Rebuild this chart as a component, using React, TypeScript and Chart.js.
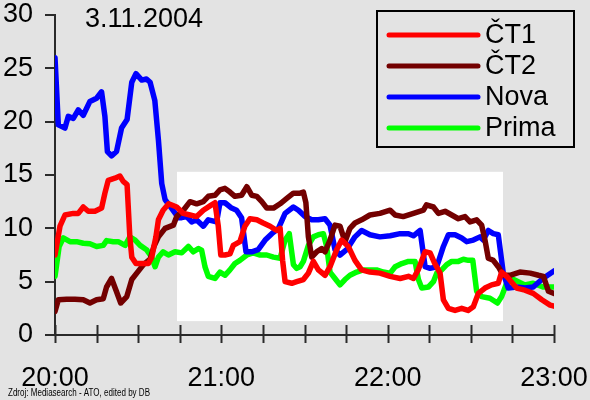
import React, { useEffect, useRef } from "react";
import { Chart, registerables } from "chart.js";

Chart.register(...registerables);

const chartDate = "3.11.2004";
const sourceNote = "Zdroj: Mediasearch - ATO, edited by DB";
const yTicks = [0, 5, 10, 15, 20, 25, 30];
const hourLabels = ["20:00", "21:00", "22:00", "23:00"];
const seriesNames = ["ČT1", "ČT2", "Nova", "Prima"];
const seriesColors = ["#ff0000", "#730000", "#0000ff", "#00ff00"];
// highlighted (white) region in data units: minutes from 20:00 and rating
const highlightMinutes = [44, 161.6];
const highlightRating = [1.3, 15.3];

// [minutes after 20:00, rating]
const ct1: [number, number][] = [
  [0, 7.5], [1.8, 10.2], [3.6, 11.25], [6.6, 11.4], [8.4, 11.4], [10.2, 12.0], [12, 11.6], [14.4, 11.6],
  [16.8, 11.9], [18, 13.3], [19.2, 14.5], [21.6, 14.7], [23.4, 14.9], [24.6, 14.4], [26, 14.1], [27, 9.2],
  [27.7, 7.3], [29.2, 6.7], [31.3, 6.7], [33.7, 6.7], [34.9, 7.3], [36.4, 9.2], [37.3, 10.8], [39, 11.7],
  [41, 12.3], [43.9, 12.0], [46.3, 11.4], [48.7, 11.25], [51.1, 11.1], [53.5, 11.7], [55.9, 12.1], [57.7, 12.4],
  [58.9, 10.2], [59.8, 7.5], [61.3, 7.5], [63.1, 7.6], [64.3, 8.4], [66.7, 8.75], [68.5, 10.2], [70.3, 10.9],
  [72.8, 10.8], [75.1, 10.5], [77.6, 10.2], [80, 9.8], [81.2, 10.0], [82.1, 7.0], [83, 5.0], [85.4, 4.85],
  [87.2, 5.0], [89.6, 5.2], [91.4, 5.8], [93.2, 6.9], [95, 6.1], [97.4, 5.6], [99.2, 6.4], [101.6, 8.0],
  [103.4, 8.9], [105.8, 8.3], [108.2, 7.0], [110.6, 6.1], [113.6, 5.9], [117.2, 5.8], [120.9, 5.5], [124.5, 5.3],
  [127.5, 5.5], [129.3, 5.3], [131, 6.1], [133.5, 7.8], [135.3, 7.7], [137, 6.7], [138.9, 5.8], [140.1, 3.3],
  [141.9, 2.5], [144.3, 2.3], [146.7, 2.5], [149, 2.3], [150.9, 2.65], [152.7, 3.9], [155.1, 4.4], [157.5, 4.7],
  [159.9, 4.85], [161.1, 5.9], [162.9, 5.5], [166.5, 4.4], [169.5, 4.2], [172.5, 3.9], [175.6, 3.3], [178.6, 2.8],
  [180, 2.7],
];

const ct2: [number, number][] = [
  [0, 2.2], [1.2, 3.3], [4.2, 3.35], [7.2, 3.35], [10.2, 3.3], [12.6, 3.0], [15, 3.3], [17.4, 3.4],
  [18.6, 4.5], [20.4, 5.3], [22, 4.2], [23.7, 3.0], [25.9, 3.6], [27.7, 5.2], [29.5, 5.8], [31.9, 6.6],
  [34.3, 7.1], [35.7, 8.3], [37.3, 9.2], [39.7, 10.0], [42.7, 10.3], [43.9, 11.1], [46.3, 11.7], [48.7, 12.5],
  [51.1, 12.3], [53.5, 12.5], [55.3, 13.0], [57.7, 13.1], [59.5, 13.6], [61.3, 13.75], [63.1, 13.4], [64.9, 13.0],
  [67.3, 13.1], [69.2, 13.9], [71, 13.1], [72.8, 13.0], [74.6, 12.5], [76.4, 11.9], [78.8, 11.9], [81.2, 12.3],
  [83.6, 12.8], [86, 13.3], [88.4, 13.3], [89.6, 13.4], [90.5, 12.4], [91.4, 9.2], [92.6, 7.3], [94.4, 7.8],
  [96.2, 8.1], [97.4, 7.8], [99.2, 8.9], [101, 10.3], [102.8, 10.2], [104.6, 8.75], [106.4, 10.0], [108.2, 10.5],
  [110.6, 10.8], [113.6, 11.25], [117.2, 11.4], [120.9, 11.7], [122.7, 11.25], [125.6, 11.1], [129.3, 11.4], [132.9, 11.7],
  [134, 12.2], [136.5, 12.0], [138.3, 11.4], [140.7, 11.6], [143.1, 11.25], [145.5, 10.9], [147.9, 11.1], [149.7, 10.6],
  [152.1, 10.8], [153.9, 10.3], [155.1, 8.9], [156.3, 7.2], [158.1, 7.0], [159.9, 6.4], [161.7, 5.6], [164.1, 5.6],
  [167.7, 5.9], [171.4, 5.8], [174.4, 5.6], [176.2, 5.5], [178, 4.1], [180, 3.9],
];

const nova: [number, number][] = [
  [0, 26], [1.2, 19.7], [3.6, 19.4], [4.8, 20.5], [6.6, 20.3], [8.4, 21.1], [10.2, 20.6], [12.6, 21.9],
  [15, 22.2], [16.8, 22.8], [18, 20.5], [18.9, 17.2], [20.4, 16.8], [22.2, 17.2], [24, 19.4], [26, 20.2],
  [27.7, 23.7], [29.2, 24.5], [31.3, 23.9], [33, 24.0], [34.3, 23.7], [36, 22.0], [37.3, 18.3], [38.5, 14.2],
  [39.7, 12.7], [42, 11.9], [44.5, 11.0], [45.7, 11.0], [47.5, 11.1], [49.3, 10.6], [51, 10.8], [53.5, 10.2],
  [55.3, 10.8], [58.3, 10.6], [59.5, 12.4], [61.3, 12.4], [63.7, 11.9], [65.5, 11.7], [67.3, 11.0], [68.9, 7.8],
  [71, 7.8], [73.3, 8.0], [75.8, 8.9], [78.2, 9.5], [80.6, 10.0], [83, 11.4], [86, 12.0], [87.8, 11.7],
  [90.2, 11.1], [92.6, 10.8], [95, 10.8], [97.4, 10.9], [99.2, 10.3], [101, 8.0], [102.8, 7.5], [105.2, 8.0],
  [108.2, 9.2], [110.6, 9.8], [113.6, 9.4], [117.2, 9.2], [120.9, 9.3], [124.5, 9.5], [127.5, 9.5], [129.3, 9.3],
  [131.7, 9.8], [133.5, 6.4], [135.3, 6.25], [137.7, 6.4], [140.1, 8.3], [141.9, 9.4], [144.3, 9.4], [146.7, 9.1],
  [148.5, 8.75], [150.9, 8.9], [153.3, 9.2], [154.5, 8.9], [156.3, 9.8], [158.1, 9.5], [159.9, 9.4], [161.7, 5.8],
  [163.5, 4.4], [166.5, 4.5], [169.5, 4.4], [172.5, 4.5], [176, 5.3], [180, 6.0],
];

const prima: [number, number][] = [
  [0, 5.5], [1.5, 8.3], [3, 9.1], [5.4, 8.75], [7.8, 8.75], [10.2, 8.6], [12.6, 8.55], [15, 8.3],
  [17.4, 8.4], [18.6, 8.85], [21, 8.75], [22.8, 8.75], [25.3, 8.4], [27, 9.2], [28.9, 8.9], [30.7, 8.4],
  [33, 8.0], [34.9, 7.3], [36.1, 6.4], [37.3, 7.3], [39, 7.8], [40.9, 7.5], [43.3, 7.8], [45.7, 7.7],
  [48.1, 8.3], [49.9, 7.8], [51.7, 8.1], [52.9, 7.95], [54.1, 6.4], [55.3, 5.5], [57.7, 5.3], [59.5, 5.9],
  [61.3, 5.6], [63.1, 6.1], [64.9, 6.7], [66.7, 7.0], [69.2, 7.5], [71.5, 7.7], [74, 7.5], [76.4, 7.5],
  [78.8, 7.3], [81.2, 7.2], [83, 8.9], [84.5, 9.5], [86, 6.6], [87.2, 6.25], [88.4, 6.4], [89.6, 6.9],
  [91.4, 8.4], [93.2, 9.2], [95, 9.4], [96.8, 9.5], [98, 8.3], [99.2, 5.9], [101, 5.3], [102.8, 4.7],
  [104.6, 5.2], [106.4, 5.6], [108.8, 5.9], [111.2, 6.1], [113.6, 6.1], [116, 6.1], [118.4, 5.9], [120.9, 5.8],
  [122.7, 6.4], [125.1, 6.7], [127.5, 6.9], [129.9, 6.9], [130.5, 6.0], [131.1, 5.2], [132.3, 4.4], [134.7, 4.5],
  [136.5, 5.0], [137.7, 5.8], [139.5, 6.1], [141.3, 6.6], [143.1, 6.9], [145.5, 6.9], [147.3, 7.1], [149.1, 7.0],
  [150.7, 7.0], [152.1, 4.1], [153.9, 3.6], [156.9, 3.45], [159.6, 3.0], [161.1, 3.6], [162.9, 4.85], [164.7, 5.3],
  [167.1, 5.0], [169.5, 4.7], [172.5, 4.85], [176, 4.5], [180, 4.5],
];

const seriesData = [ct1, ct2, nova, prima];

const BG = "#e3e3e3";
const AXIS = "#2a2a2a";
const FONT = "'Liberation Sans', Arial, sans-serif";

const decorPlugin = {
  id: "decor",
  beforeDraw(chart: any) {
    const { ctx, width, height, scales } = chart;
    ctx.save();
    ctx.fillStyle = BG;
    ctx.fillRect(0, 0, width, height);
    const x0 = scales.x.getPixelForValue(highlightMinutes[0]);
    const x1 = scales.x.getPixelForValue(highlightMinutes[1]);
    const y0 = scales.y.getPixelForValue(highlightRating[1]);
    const y1 = scales.y.getPixelForValue(highlightRating[0]);
    ctx.fillStyle = "#ffffff";
    ctx.fillRect(x0, y0, x1 - x0, y1 - y0);
    ctx.restore();
  },
  afterDraw(chart: any) {
    const { ctx, scales, chartArea } = chart;
    ctx.save();
    // x tick marks crossing the axis
    ctx.strokeStyle = AXIS;
    ctx.lineWidth = 2;
    for (const t of scales.x.ticks) {
      const px = Math.round(scales.x.getPixelForValue(t.value)) + 0.5;
      ctx.beginPath();
      ctx.moveTo(px, chartArea.bottom - 10);
      ctx.lineTo(px, chartArea.bottom + 8);
      ctx.stroke();
    }
    // date title
    ctx.fillStyle = "#000";
    ctx.font = `27px ${FONT}`;
    ctx.textBaseline = "middle";
    ctx.textAlign = "left";
    ctx.fillText(chartDate, 85, 20);
    // legend
    const lx = 377, ly = 11, lw = 197, lh = 136;
    ctx.strokeStyle = "#000";
    ctx.lineWidth = 2;
    ctx.strokeRect(lx, ly, lw, lh);
    const rows = [35, 66, 97, 128];
    chart.data.datasets.forEach((ds: any, i: number) => {
      ctx.strokeStyle = ds.borderColor;
      ctx.lineWidth = 5;
      ctx.lineCap = "round";
      ctx.beginPath();
      ctx.moveTo(389, rows[i]);
      ctx.lineTo(478, rows[i]);
      ctx.stroke();
      ctx.fillStyle = "#000";
      ctx.font = `27px ${FONT}`;
      ctx.textBaseline = "middle";
      ctx.fillText(ds.label, 485, rows[i] + 1);
    });
    // source note (condensed horizontally to fit its original width)
    ctx.font = `10px ${FONT}`;
    ctx.fillStyle = "#000";
    ctx.textBaseline = "alphabetic";
    const w = ctx.measureText(sourceNote).width;
    const sx = Math.min(1, 142 / w);
    ctx.translate(8, 396);
    ctx.scale(sx, 1);
    ctx.fillText(sourceNote, 0, 0);
    ctx.restore();
  },
};

export default function App() {
  const ref = useRef<HTMLCanvasElement | null>(null);
  useEffect(() => {
    if (!ref.current) return;
    const chart = new Chart(ref.current, {
      type: "line",
      data: {
        datasets: seriesData.map((s, i) => ({
          label: seriesNames[i],
          data: s.map(([x, y]) => ({ x, y })),
          borderColor: seriesColors[i],
          backgroundColor: seriesColors[i],
          borderWidth: 5.5,
          pointRadius: 0,
          tension: 0,
          borderJoinStyle: "round" as const,
          borderCapStyle: "round" as const,
        })),
      },
      options: {
        responsive: false,
        animation: false,
        events: [],
        layout: { padding: { top: 15, right: 36, left: 0, bottom: 0 } },
        plugins: { legend: { display: false }, tooltip: { enabled: false }, title: { display: false } },
        scales: {
          x: {
            type: "linear",
            min: 0,
            max: 180,
            afterFit: (s: any) => {
              s.height = 65;
              s.paddingLeft = 0;
              s.paddingRight = 0;
            },
            afterBuildTicks: (s: any) => {
              const t = [];
              for (let v = 0; v <= 180; v += 15) t.push({ value: v });
              s.ticks = t;
            },
            ticks: {
              autoSkip: false,
              maxRotation: 0,
              minRotation: 0,
              padding: 27,
              color: "#000",
              font: { family: FONT, size: 27 },
              callback: (v: any) => (Number(v) % 60 === 0 ? hourLabels[Number(v) / 60] : ""),
            },
            grid: { display: false, drawTicks: false },
            border: { display: true, color: AXIS, width: 2 },
          },
          y: {
            min: 0,
            max: 30,
            afterFit: (s: any) => {
              s.width = 55;
              s.paddingTop = 0;
              s.paddingBottom = 0;
            },
            afterBuildTicks: (s: any) => { s.ticks = yTicks.map((v) => ({ value: v })); },
            ticks: {
              padding: 12,
              color: "#000",
              font: { family: FONT, size: 27 },
            },
            grid: { drawOnChartArea: false, drawTicks: true, tickLength: 10, color: AXIS, lineWidth: 2 },
            border: { display: true, color: AXIS, width: 2 },
          },
        },
      },
      plugins: [decorPlugin],
    } as any);
    return () => chart.destroy();
  }, []);
  return (
    <div style={{ position: "fixed", left: 0, top: 0, width: 590, height: 400, background: BG }}>
      <canvas ref={ref} width={590} height={400} />
    </div>
  );
}
